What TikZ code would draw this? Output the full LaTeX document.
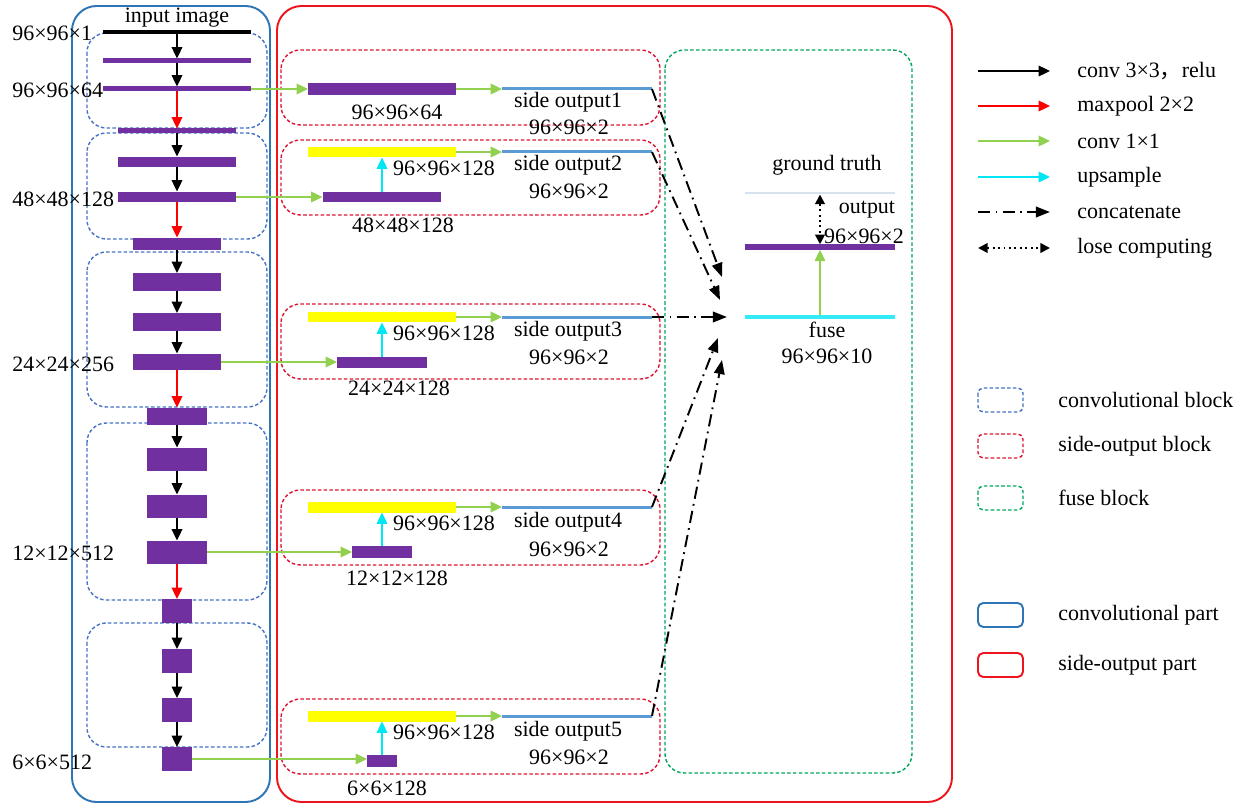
\documentclass[tikz,border=0pt]{standalone}
\usepackage{fontspec}
\setmainfont{Liberation Serif}
\newfontfamily\cjk{Noto Sans CJK SC}
\usepackage{tikz}
\usetikzlibrary{arrows.meta, positioning, calc}
\definecolor{convpurple}{RGB}{112,48,160}
\definecolor{blockblue}{RGB}{68,114,196}
\definecolor{partblue}{RGB}{46,117,182}
\definecolor{partred}{RGB}{238,20,30}
\definecolor{blockred}{RGB}{220,20,50}
\definecolor{fusegreen}{RGB}{0,166,90}
\definecolor{onegreen}{RGB}{146,208,80}
\definecolor{upcyan}{RGB}{0,230,245}
\definecolor{sideblue}{RGB}{91,155,213}
\definecolor{gtgray}{RGB}{215,226,238}
\definecolor{upyellow}{RGB}{255,255,0}

\begin{document}
\begin{tikzpicture}[x=0.02cm, y=-0.02cm, font=\fontsize{12.5}{14}\selectfont]
        \useasboundingbox (0,0) rectangle (1245,811);
        % Define styles
        \tikzstyle{layer} = [rectangle, fill=convpurple, inner sep=0pt, outer sep=0pt]
        \tikzstyle{upbar} = [rectangle, fill=upyellow, inner sep=0pt, outer sep=0pt, minimum width=2.96cm, minimum height=0.22cm]
        \tikzstyle{sideline} = [rectangle, fill=sideblue, inner sep=0pt, outer sep=0pt, minimum width=3cm, minimum height=0.06cm]
        \tikzstyle{lbl} = [inner sep=0pt]
        \tikzstyle{convblock} = [draw=blockblue, line width=0.8pt, dash pattern=on 2pt off 1.3pt, rounded corners=11pt]
        \tikzstyle{sideblock} = [draw=blockred, line width=0.8pt, dash pattern=on 2pt off 1.3pt, rounded corners=11pt]
        \tikzstyle{fuseblock} = [draw=fusegreen, line width=0.8pt, dash pattern=on 2pt off 1.3pt, rounded corners=11pt]
        \tikzstyle{convarrow} = [-{Triangle[length=6.5pt,width=6pt]}, line width=1.1pt]
        \tikzstyle{poolarrow} = [convarrow, red]
        \tikzstyle{onearrow} = [convarrow, onegreen]
        \tikzstyle{uparrow} = [convarrow, upcyan]
        \tikzstyle{catarrow} = [-{Triangle[length=8pt,width=6pt]}, line width=1.1pt, dash pattern=on 7pt off 3pt on 1pt off 3pt]
        \tikzstyle{lossarrow} = [{Triangle[length=5.5pt,width=5.5pt]}-{Triangle[length=5.5pt,width=5.5pt]}, line width=1.1pt, dotted]

        % Parts
        \draw[partblue, line width=1.1pt, rounded corners=14pt] (72,6) rectangle (270,802);
        \draw[partred, line width=1.1pt, rounded corners=14pt] (277,6) rectangle (952,802);

        % Convolutional blocks
        \draw[convblock] (87,33) rectangle (267,128);
        \draw[convblock] (87,133) rectangle (267,239);
        \draw[convblock] (87,252) rectangle (267,407);
        \draw[convblock] (87,423) rectangle (267,600);
        \draw[convblock] (87,623) rectangle (267,747);

        % Side-output blocks and fuse block
        \draw[sideblock] (281,50) rectangle (660,125);
        \draw[sideblock] (281,140) rectangle (660,215);
        \draw[sideblock] (281,304) rectangle (660,379);
        \draw[sideblock] (281,490) rectangle (660,565);
        \draw[sideblock] (281,699) rectangle (660,774);
        \draw[fuseblock] (665,50) rectangle (912,773);

        % Convolutional layers
        \node[lbl] (title) at (177,18) {input image};
        \node[layer, fill=black, minimum width=2.96cm, minimum height=0.08cm] (in0) at (177,32) {};
        \node[layer, minimum width=2.96cm, minimum height=0.1cm] (c1a) at (177,61) {};
        \node[layer, minimum width=2.96cm, minimum height=0.1cm] (c1b) at (177,89) {};
        \node[layer, minimum width=2.38cm, minimum height=0.1cm] (p1) at (177,131) {};
        \node[layer, minimum width=2.38cm, minimum height=0.22cm] (c2a) at (177,162) {};
        \node[layer, minimum width=2.38cm, minimum height=0.22cm] (c2b) at (177,197) {};
        \node[layer, minimum width=1.78cm, minimum height=0.26cm] (p2) at (177,244) {};
        \node[layer, minimum width=1.78cm, minimum height=0.36cm] (c3a) at (177,282) {};
        \node[layer, minimum width=1.78cm, minimum height=0.36cm] (c3b) at (177,322) {};
        \node[layer, minimum width=1.78cm, minimum height=0.34cm] (c3c) at (177,362) {};
        \node[layer, minimum width=1.2cm, minimum height=0.34cm] (p3) at (177,416) {};
        \node[layer, minimum width=1.2cm, minimum height=0.46cm] (c4a) at (177,459) {};
        \node[layer, minimum width=1.2cm, minimum height=0.46cm] (c4b) at (177,506) {};
        \node[layer, minimum width=1.2cm, minimum height=0.46cm] (c4c) at (177,552) {};
        \node[layer, minimum width=0.6cm, minimum height=0.48cm] (p4) at (177,611) {};
        \node[layer, minimum width=0.6cm, minimum height=0.48cm] (c5a) at (177,661) {};
        \node[layer, minimum width=0.6cm, minimum height=0.48cm] (c5b) at (177,710) {};
        \node[layer, minimum width=0.6cm, minimum height=0.48cm] (c5c) at (177,759) {};

        % Sizes of the convolutional layers
        \node[lbl, anchor=west] (d0) at (12,33) {96×96×1};
        \node[lbl, anchor=west] (d1) at (12,90) {96×96×64};
        \node[lbl, anchor=west] (d2) at (12,199) {48×48×128};
        \node[lbl, anchor=west] (d3) at (12,364) {24×24×256};
        \node[lbl, anchor=west] (d4) at (12,553) {12×12×512};
        \node[lbl, anchor=west] (d5) at (12,762) {6×6×512};

        % Convolutions and pooling
        \foreach \a/\b in {in0/c1a, c1a/c1b, p1/c2a, c2a/c2b, p2/c3a, c3a/c3b, c3b/c3c, p3/c4a, c4a/c4b, c4b/c4c, p4/c5a, c5a/c5b, c5b/c5c}
            \draw[convarrow] (\a.south) -- (\b.north);
        \foreach \a/\b in {c1b/p1, c2b/p2, c3c/p3, c4c/p4}
            \draw[poolarrow] (\a.south) -- (\b.north);

        % Side outputs
        \node[layer, minimum width=2.96cm, minimum height=0.24cm] (m1) at (382,89) {};
        \node[layer, minimum width=2.38cm, minimum height=0.22cm] (m2) at (382,197) {};
        \node[layer, minimum width=1.8cm, minimum height=0.22cm] (m3) at (382,362) {};
        \node[layer, minimum width=1.2cm, minimum height=0.24cm] (m4) at (382,552) {};
        \node[layer, minimum width=0.6cm, minimum height=0.24cm] (m5) at (382,761) {};
        \node[upbar] (y2) at (382,152) {};
        \node[upbar] (y3) at (382,317) {};
        \node[upbar] (y4) at (382,507) {};
        \node[upbar] (y5) at (382,716) {};
        \node[sideline] (so1) at (577,89) {};
        \node[sideline] (so2) at (577,152) {};
        \node[sideline] (so3) at (577,317) {};
        \node[sideline] (so4) at (577,507) {};
        \node[sideline] (so5) at (577,716) {};

        \draw[onearrow] (c1b.east) -- (m1.west);
        \draw[onearrow] (c2b.east) -- (m2.west);
        \draw[onearrow] (c3c.east) -- (m3.west);
        \draw[onearrow] (c4c.east) -- (m4.west);
        \draw[onearrow] (c5c.east) -- (m5.west |- c5c.east);
        \draw[uparrow] (m2.north) -- (y2.south);
        \draw[uparrow] (m3.north) -- (y3.south);
        \draw[uparrow] (m4.north) -- (y4.south);
        \draw[uparrow] (m5.north) -- (y5.south);
        \draw[onearrow] (m1.east) -- (so1.west);
        \draw[onearrow] (y2.east) -- (so2.west);
        \draw[onearrow] (y3.east) -- (so3.west);
        \draw[onearrow] (y4.east) -- (so4.west);
        \draw[onearrow] (y5.east) -- (so5.west);

        % Side-output sizes
        \node[lbl] (e1) at (397,112) {96×96×64};
        \node[lbl] (e2) at (403,225) {48×48×128};
        \node[lbl] (e3) at (399,388) {24×24×128};
        \node[lbl] (e4) at (397,578) {12×12×128};
        \node[lbl] (e5) at (387,788) {6×6×128};
        \node[lbl] (f2) at (444,168) {96×96×128};
        \node[lbl] (f3) at (444,333) {96×96×128};
        \node[lbl] (f4) at (444,523) {96×96×128};
        \node[lbl] (f5) at (444,732) {96×96×128};
        \node[lbl] (n1) at (568,102) {side output1};
        \node[lbl] (n2) at (568,165) {side output2};
        \node[lbl] (n3) at (568,331) {side output3};
        \node[lbl] (n4) at (568,522) {side output4};
        \node[lbl] (n5) at (568,731) {side output5};
        \node[lbl] (g1) at (569,127) {96×96×2};
        \node[lbl] (g2) at (569,191) {96×96×2};
        \node[lbl] (g3) at (569,357) {96×96×2};
        \node[lbl] (g4) at (569,549) {96×96×2};
        \node[lbl] (g5) at (569,757) {96×96×2};

        % Fuse block
        \node[layer, fill=gtgray, minimum width=3cm, minimum height=0.06cm] (gt) at (820,193) {};
        \node[layer, minimum width=3cm, minimum height=0.11cm] (out) at (820,247) {};
        \node[layer, fill=upcyan!80, minimum width=3cm, minimum height=0.08cm] (fuse) at (820,317) {};
        \node[lbl] (gtl) at (827,165) {ground truth};
        \node[lbl] (outl) at (867,210) {output};
        \node[lbl] (outd) at (864,236) {96×96×2};
        \node[lbl] (fusel) at (827,330) {fuse};
        \node[lbl] (fused) at (827,356) {96×96×10};
        \draw[lossarrow] (gt.south) -- (out.north);
        \draw[onearrow] (fuse.north) -- (out.south);

        % Concatenation
        \coordinate (t1) at (722,277);
        \coordinate (t2) at (720,300);
        \coordinate (t3) at (727,317);
        \coordinate (t4) at (718,338);
        \coordinate (t5) at (722,360);
        \draw[catarrow] (so1.east) -- (t1);
        \draw[catarrow] (so2.east) -- (t2);
        \draw[catarrow] (so3.east) -- (t3);
        \draw[catarrow] (so4.east) -- (t4);
        \draw[catarrow] (so5.east) -- (t5);

        % Legend
        \coordinate (la1) at (978,71);   \coordinate (lb1) at (1050,71);
        \coordinate (la2) at (978,106);  \coordinate (lb2) at (1050,106);
        \coordinate (la3) at (978,141);  \coordinate (lb3) at (1050,141);
        \coordinate (la4) at (978,177);  \coordinate (lb4) at (1050,177);
        \coordinate (la5) at (978,212);  \coordinate (lb5) at (1050,212);
        \coordinate (la6) at (978,248);  \coordinate (lb6) at (1050,248);
        \draw[convarrow] (la1) -- (lb1);
        \draw[poolarrow] (la2) -- (lb2);
        \draw[onearrow] (la3) -- (lb3);
        \draw[uparrow] (la4) -- (lb4);
        \draw[catarrow] (la5) -- (lb5);
        \draw[lossarrow] (la6) -- (lb6);
        \node[lbl, anchor=west] (k1) at (1077,71) {conv 3×3{\cjk ，}relu};
        \node[lbl, anchor=west] (k2) at (1077,106) {maxpool 2×2};
        \node[lbl, anchor=west] (k3) at (1077,141) {conv 1×1};
        \node[lbl, anchor=west] (k4) at (1077,177) {upsample};
        \node[lbl, anchor=west] (k5) at (1077,212) {concatenate};
        \node[lbl, anchor=west] (k6) at (1077,248) {lose computing};

        \draw[convblock, rounded corners=3pt] (978,388) rectangle (1023,412);
        \draw[sideblock, rounded corners=3pt] (978,434) rectangle (1023,458);
        \draw[fuseblock, rounded corners=3pt] (978,486) rectangle (1023,510);
        \draw[partblue, line width=1.1pt, rounded corners=3pt] (978,603) rectangle (1023,627);
        \draw[partred, line width=1.1pt, rounded corners=3pt] (978,653) rectangle (1023,677);
        \node[lbl, anchor=west] (k7) at (1058,400) {convolutional block};
        \node[lbl, anchor=west] (k8) at (1058,446) {side-output block};
        \node[lbl, anchor=west] (k9) at (1058,498) {fuse block};
        \node[lbl, anchor=west] (k10) at (1058,615) {convolutional part};
        \node[lbl, anchor=west] (k11) at (1058,665) {side-output part};

    \end{tikzpicture}
\end{document}
